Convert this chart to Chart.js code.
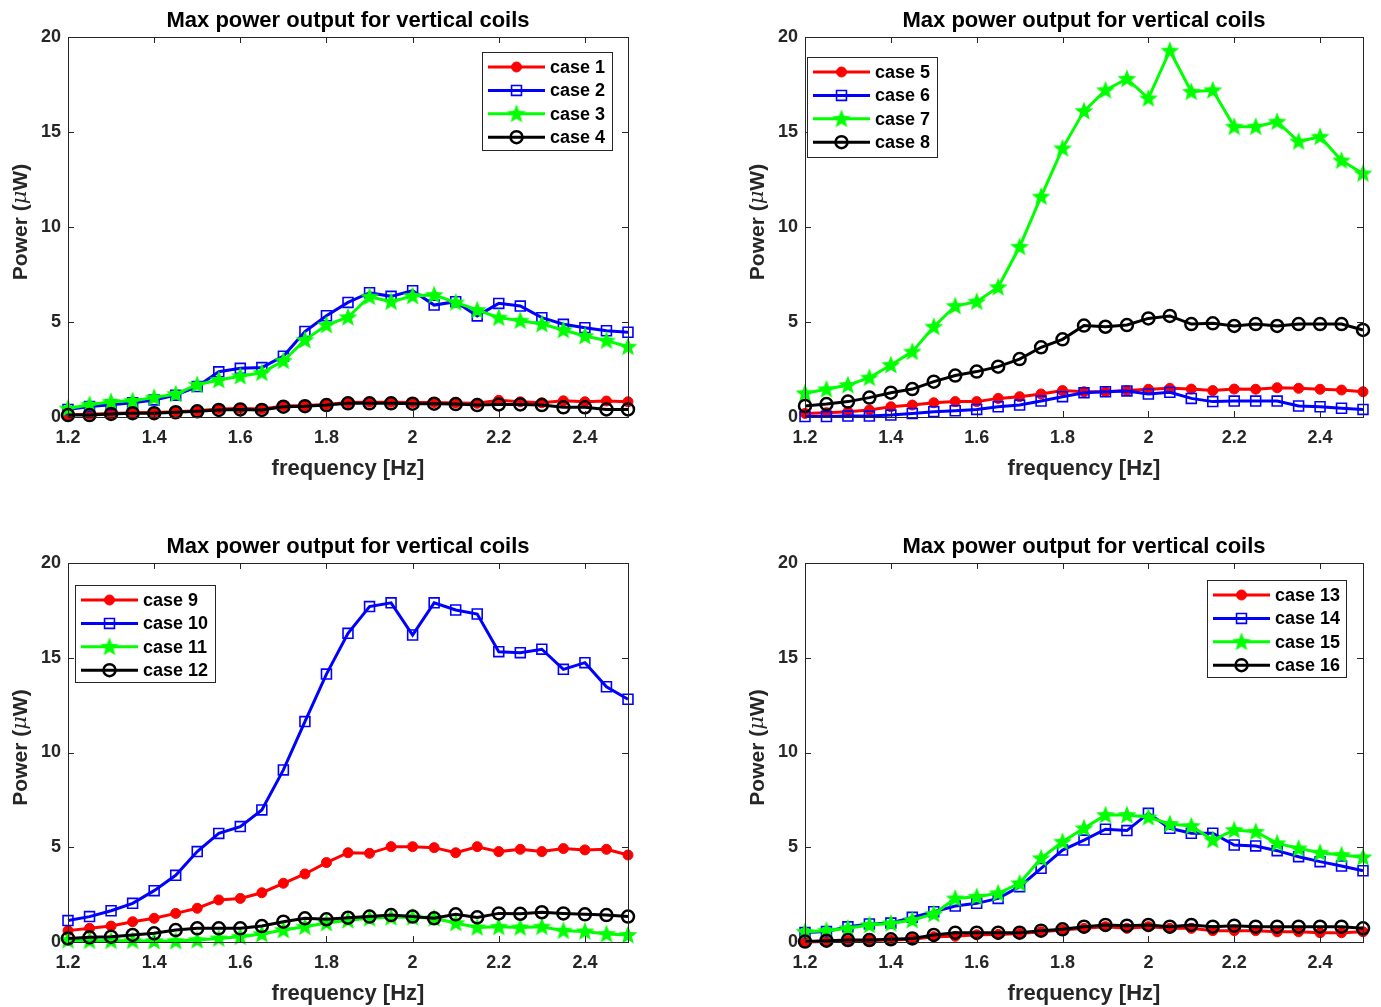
<!DOCTYPE html>
<html><head><meta charset="utf-8">
<script src="https://cdn.jsdelivr.net/npm/chart.js@4.4.1/dist/chart.umd.min.js"></script>
<style>
html,body{margin:0;padding:0;background:#fff;}
body{width:1381px;height:1007px;position:relative;overflow:hidden;}
canvas{position:absolute;}
</style></head><body>
<canvas id="c1" width="690" height="500" style="left:0;top:0"></canvas>
<canvas id="c2" width="644" height="500" style="left:737px;top:0"></canvas>
<canvas id="c3" width="690" height="481" style="left:0;top:526px"></canvas>
<canvas id="c4" width="644" height="481" style="left:737px;top:526px"></canvas>
<script>
// ---------- data ----------
const frequency = [1.2,1.25,1.3,1.35,1.4,1.45,1.5,1.55,1.6,1.65,1.7,1.75,1.8,1.85,1.9,1.95,2.0,2.05,2.1,2.15,2.2,2.25,2.3,2.35,2.4,2.45,2.5];
const xTicks = [1.2,1.4,1.6,1.8,2.0,2.2,2.4];
const xTickLabels = ['1.2','1.4','1.6','1.8','2','2.2','2.4'];
const yTicks = [0,5,10,15,20];
const yTickLabels = ['0','5','10','15','20'];
const chartTitle = 'Max power output for vertical coils';
const xTitle = 'frequency [Hz]';

const case1 = [0.12,0.14,0.18,0.22,0.24,0.28,0.33,0.42,0.45,0.42,0.58,0.6,0.66,0.76,0.78,0.78,0.76,0.76,0.74,0.72,0.88,0.8,0.75,0.85,0.8,0.84,0.8];
const case2 = [0.4,0.55,0.65,0.75,0.9,1.15,1.6,2.38,2.56,2.6,3.2,4.5,5.33,6.03,6.54,6.35,6.65,5.89,6.07,5.32,5.98,5.84,5.23,4.88,4.7,4.54,4.46];
const case3 = [0.45,0.65,0.8,0.85,1.02,1.21,1.7,1.95,2.15,2.33,2.96,4.05,4.84,5.25,6.33,6.07,6.37,6.42,6.03,5.63,5.23,5.07,4.89,4.58,4.26,4.02,3.7];
const case4 = [0.1,0.1,0.16,0.2,0.2,0.25,0.3,0.37,0.4,0.37,0.54,0.57,0.63,0.72,0.72,0.72,0.7,0.7,0.68,0.63,0.66,0.66,0.63,0.51,0.51,0.4,0.4];

const case5 = [0.19,0.23,0.28,0.37,0.54,0.63,0.75,0.81,0.81,0.98,1.07,1.21,1.39,1.33,1.33,1.39,1.46,1.51,1.47,1.39,1.47,1.46,1.54,1.51,1.46,1.42,1.33];
const case6 = [0.02,0.02,0.05,0.05,0.1,0.19,0.28,0.33,0.4,0.54,0.63,0.84,1.07,1.28,1.33,1.37,1.21,1.3,0.98,0.81,0.84,0.84,0.84,0.58,0.54,0.46,0.4];
const case7 = [1.25,1.46,1.68,2.07,2.74,3.44,4.75,5.84,6.07,6.83,8.96,11.6,14.14,16.1,17.2,17.8,16.77,19.28,17.12,17.2,15.28,15.28,15.54,14.5,14.75,13.5,12.82];
const case8 = [0.58,0.68,0.81,1.02,1.28,1.47,1.86,2.18,2.39,2.65,3.05,3.67,4.09,4.81,4.75,4.84,5.19,5.32,4.89,4.93,4.79,4.89,4.79,4.89,4.89,4.89,4.58];

const case9  = [0.6,0.72,0.84,1.07,1.25,1.51,1.78,2.22,2.3,2.6,3.1,3.59,4.19,4.71,4.68,5.03,5.03,4.98,4.71,5.03,4.77,4.89,4.77,4.93,4.86,4.89,4.59];
const case10 = [1.13,1.34,1.65,2.04,2.71,3.52,4.77,5.73,6.09,6.97,9.08,11.63,14.14,16.29,17.7,17.9,16.2,17.9,17.52,17.31,15.32,15.27,15.45,14.39,14.74,13.47,12.81];
const case11 = [0.1,0.07,0.07,0.07,0.05,0.05,0.1,0.19,0.28,0.42,0.63,0.81,1.0,1.15,1.25,1.3,1.3,1.25,1.0,0.77,0.8,0.77,0.81,0.6,0.56,0.42,0.37];
const case12 = [0.19,0.25,0.28,0.37,0.46,0.63,0.72,0.72,0.72,0.84,1.07,1.25,1.2,1.28,1.34,1.42,1.34,1.25,1.46,1.3,1.51,1.49,1.57,1.51,1.46,1.42,1.34];

const case13 = [0.0,0.03,0.06,0.08,0.1,0.15,0.28,0.3,0.38,0.4,0.45,0.54,0.63,0.72,0.81,0.72,0.81,0.72,0.72,0.6,0.6,0.6,0.54,0.54,0.49,0.49,0.54];
const case14 = [0.5,0.55,0.8,0.95,1.0,1.3,1.6,1.9,2.04,2.3,2.92,3.89,4.85,5.38,5.95,5.88,6.79,6.0,5.74,5.74,5.12,5.07,4.82,4.5,4.24,4.01,3.76];
const case15 = [0.54,0.6,0.72,0.9,0.98,1.16,1.48,2.3,2.39,2.57,3.1,4.42,5.29,6.0,6.7,6.7,6.58,6.23,6.12,5.38,5.91,5.82,5.21,4.94,4.71,4.59,4.47];
const case16 = [0.02,0.07,0.1,0.1,0.14,0.19,0.37,0.49,0.49,0.49,0.49,0.6,0.67,0.81,0.9,0.86,0.9,0.81,0.9,0.81,0.86,0.81,0.81,0.81,0.81,0.81,0.72];

// ---------- styles ----------
const FONT = '"Liberation Sans", Arial, Helvetica, sans-serif';
function makeStar(R, color){
  const s = Math.ceil(R*2+2);
  const c = document.createElement('canvas'); c.width = s; c.height = s;
  const g = c.getContext('2d');
  g.beginPath();
  const r = R*0.42;
  for (let k=0;k<10;k++){
    const ang = -Math.PI/2 + k*Math.PI/5;
    const rr = (k%2) ? r : R;
    g.lineTo(s/2 + rr*Math.cos(ang), s/2 + 0.5 + rr*Math.sin(ang));
  }
  g.closePath(); g.fillStyle = color; g.fill();
  return c;
}
const starImg = makeStar(10, '#00ff00');
const seriesStyles = [
  {color:'#ff0000', pointStyle:'circle', radius:5, bg:'#ff0000', bw:1},
  {color:'#0000ff', pointStyle:'rect', radius:7, bg:'rgba(0,0,0,0)', bw:1.6},
  {color:'#00ff00', pointStyle:starImg, radius:10, bg:'#00ff00', bw:0},
  {color:'#000000', pointStyle:'circle', radius:6, bg:'rgba(0,0,0,0)', bw:2.5}
];

const matlabPlugin = {
  id: 'matlab',
  afterDraw(chart, args, opts) {
    const ctx = chart.ctx, a = chart.chartArea;
    const xs = chart.scales.x, ys = chart.scales.y;
    ctx.save();
    // frame
    ctx.strokeStyle = '#262626'; ctx.lineWidth = 1;
    ctx.strokeRect(a.left+0.5, a.top+0.5, a.right-a.left, a.bottom-a.top);
    const tl = 6;
    ctx.beginPath();
    xTicks.forEach(v => {
      const px = Math.round(xs.getPixelForValue(v)) + 0.5;
      ctx.moveTo(px, a.bottom); ctx.lineTo(px, a.bottom - tl);
      ctx.moveTo(px, a.top); ctx.lineTo(px, a.top + tl);
    });
    yTicks.forEach(v => {
      const py = Math.round(ys.getPixelForValue(v)) + 0.5;
      ctx.moveTo(a.left, py); ctx.lineTo(a.left + tl, py);
      ctx.moveTo(a.right, py); ctx.lineTo(a.right - tl, py);
    });
    ctx.stroke();
    // title
    ctx.fillStyle = '#000';
    ctx.font = 'bold 22px ' + FONT;
    ctx.textAlign = 'center'; ctx.textBaseline = 'alphabetic';
    ctx.fillText(chartTitle, (a.left+a.right)/2, a.top - 10);
    // x title
    ctx.fillStyle = '#262626';
    ctx.textBaseline = 'middle';
    ctx.font = 'bold 22px ' + FONT;
    ctx.fillText(xTitle, (a.left+a.right)/2, a.bottom + 52);
    // y title with italic mu
    const parts = [
      {t:'Power (', f:'bold 21px ' + FONT},
      {t:'\u03bc', f:'italic 21px "DejaVu Serif", "Liberation Serif", serif'},
      {t:'W)', f:'bold 21px ' + FONT}
    ];
    let total = 0;
    parts.forEach(p => { ctx.font = p.f; p.w = ctx.measureText(p.t).width; total += p.w; });
    ctx.translate(21, (a.top + a.bottom)/2 - 5);
    ctx.rotate(-Math.PI/2);
    ctx.textAlign = 'left';
    let xx = -total/2;
    parts.forEach(p => { ctx.font = p.f; ctx.fillText(p.t, xx, 0); xx += p.w; });
    ctx.setTransform(1,0,0,1,0,0);
    // legend
    const L = opts.legend;
    const bx = a.left + L.x, by = a.top + L.y;
    ctx.fillStyle = '#fff';
    ctx.fillRect(bx, by, L.w, L.h);
    ctx.strokeStyle = '#262626'; ctx.lineWidth = 1;
    ctx.strokeRect(bx + 0.5, by + 0.5, L.w, L.h);
    chart.data.datasets.forEach((ds, i) => {
      const ry = by + 15 + i * 23.4;
      ctx.strokeStyle = ds.borderColor; ctx.lineWidth = 3;
      ctx.beginPath(); ctx.moveTo(bx + 6, ry); ctx.lineTo(bx + 63, ry); ctx.stroke();
      ctx.fillStyle = ds.pointBackgroundColor;
      ctx.strokeStyle = ds.pointBorderColor;
      ctx.lineWidth = ds.pointBorderWidth;
      Chart.helpers.drawPoint(ctx, {pointStyle: ds.pointStyle, radius: ds.pointRadius, borderWidth: ds.pointBorderWidth, rotation: 0}, bx + 34.5, ry);
      ctx.fillStyle = '#000';
      ctx.font = 'bold 18px ' + FONT;
      ctx.textAlign = 'left'; ctx.textBaseline = 'middle';
      ctx.fillText(ds.label, bx + 68, ry + 1);
    });
    ctx.restore();
  }
};

function makeChart(id, labels, series, legend, padRight, xH) {
  const datasets = series.map((vals, i) => {
    const s = seriesStyles[i];
    return {
      label: labels[i],
      data: frequency.map((f, k) => ({x: f, y: vals[k]})),
      borderColor: s.color, borderWidth: 3,
      pointStyle: s.pointStyle, pointRadius: s.radius,
      pointBackgroundColor: s.bg, pointBorderColor: s.color, pointBorderWidth: s.bw,
      pointHoverRadius: s.radius,
      tension: 0, clip: false, order: 4 - i
    };
  });
  new Chart(document.getElementById(id), {
    type: 'line',
    data: { datasets },
    plugins: [matlabPlugin],
    options: {
      responsive: false, animation: false, events: [],
      layout: { padding: { top: 37, right: padRight, left: 0, bottom: 0 } },
      plugins: { legend: { display: false }, tooltip: { enabled: false }, title: { display: false },
        matlab: { legend } },
      scales: {
        x: {
          type: 'linear', min: 1.2, max: 2.5,
          grid: { display: false, drawTicks: false }, border: { display: false },
          afterBuildTicks: sc => { sc.ticks = xTicks.map(v => ({ value: v })); },
          afterFit: sc => { sc.height = xH; },
          ticks: { color: '#262626', font: { family: FONT, size: 18, weight: 'bold' }, padding: 10,
                   maxRotation: 0, autoSkip: false, callback: (v, i) => xTickLabels[i] }
        },
        y: {
          type: 'linear', min: 0, max: 20,
          grid: { display: false, drawTicks: false }, border: { display: false },
          afterBuildTicks: sc => { sc.ticks = yTicks.map(v => ({ value: v })); },
          afterFit: sc => { sc.width = 68; },
          ticks: { color: '#262626', font: { family: FONT, size: 18, weight: 'bold' }, padding: 7,
                   callback: (v, i) => yTickLabels[i] }
        }
      }
    }
  });
}

makeChart('c1', ['case 1','case 2','case 3','case 4'], [case1, case2, case3, case4], {x:414, y:15, w:130, h:98}, 62, 83);
makeChart('c2', ['case 5','case 6','case 7','case 8'], [case5, case6, case7, case8], {x:2, y:20, w:130, h:100}, 18, 83);
makeChart('c3', ['case 9','case 10','case 11','case 12'], [case9, case10, case11, case12], {x:7, y:22, w:140, h:97}, 62, 65);
makeChart('c4', ['case 13','case 14','case 15','case 16'], [case13, case14, case15, case16], {x:402, y:17, w:139, h:97}, 18, 65);
</script>
</body></html>
